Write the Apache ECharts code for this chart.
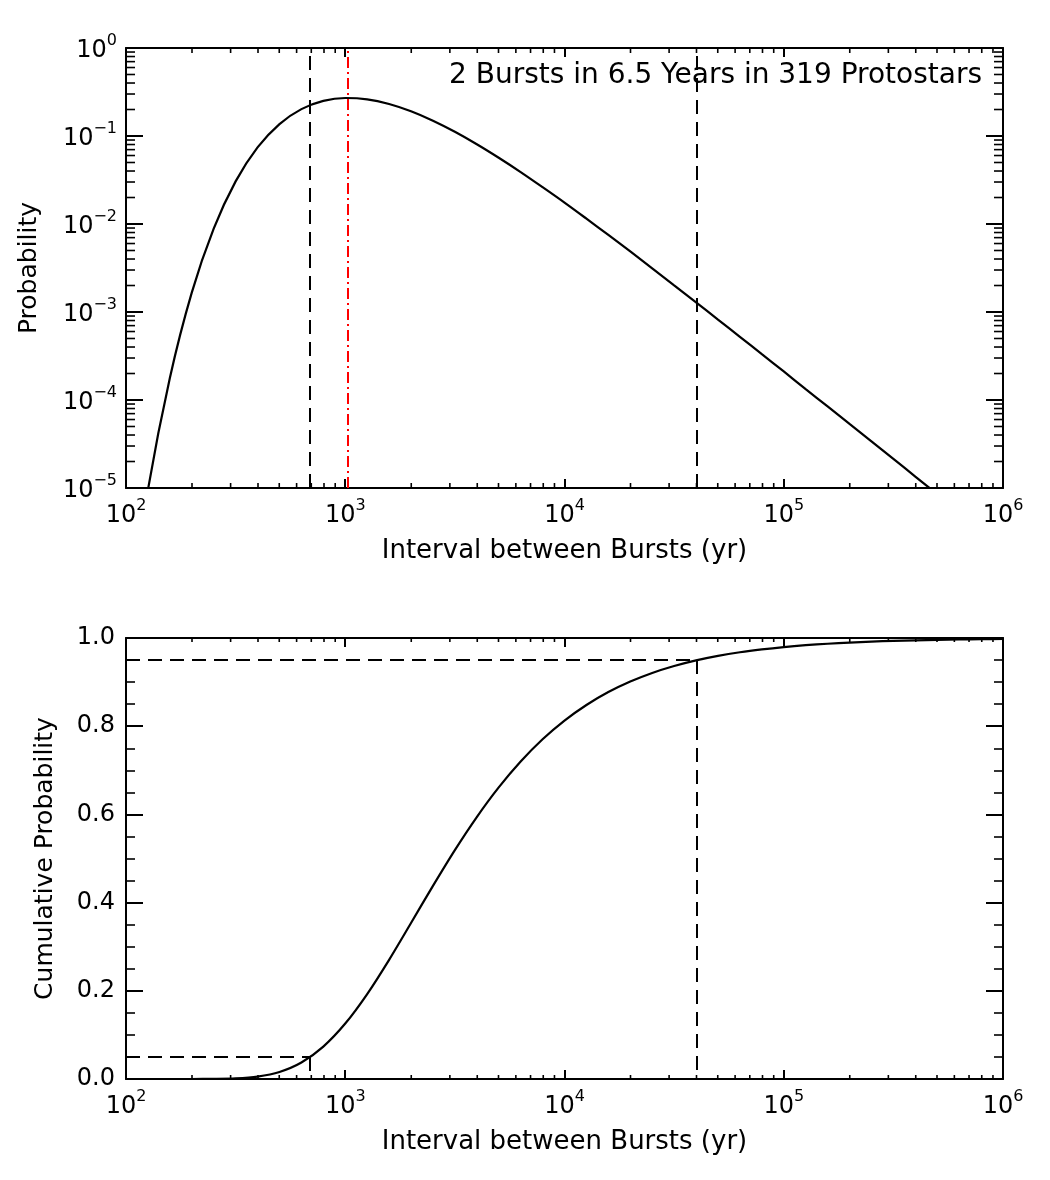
<!DOCTYPE html>
<html>
<head>
<meta charset="utf-8">
<script src="https://cdn.jsdelivr.net/npm/echarts@6/dist/echarts.min.js"></script>
<style>
  html, body { margin: 0; padding: 0; background: #fff; }
  #main { width: 1050px; height: 1180px; }
</style>
</head>
<body>
<div id="main"></div>
<script>
// interval between bursts (yr), sampled every 0.1 dex
var tau = [100, 125.9, 158.5, 199.5, 251.2, 316.2, 398.1, 501.2, 631.0, 794.3,
  1000, 1259, 1585, 1995, 2512, 3162, 3981, 5012, 6310, 7943,
  10000, 12589, 15849, 19953, 25119, 31623, 39811, 50119, 63096, 79433,
  100000, 125893, 158489, 199526, 251189, 316228, 398107, 501187, 630957, 794328, 1000000];

// top panel: probability
var prob = [2.12e-7, 9.53e-6, 1.78e-4, 1.66e-3, 8.86e-3, 0.0305, 0.0742, 0.1367, 0.2019, 0.2504,
  0.2703, 0.2613, 0.2313, 0.1910, 0.1492, 0.1116, 0.0806, 0.0566, 0.0389, 0.0262,
  0.0175, 0.0115, 0.00751, 0.00487, 0.00314, 0.00201, 0.00129, 8.21e-4, 5.23e-4, 3.32e-4,
  2.11e-4, 1.33e-4, 8.45e-5, 5.34e-5, 3.38e-5, 2.14e-5, 1.35e-5, 8.52e-6, 5.38e-6, 3.40e-6, 2.15e-6];

// bottom panel: cumulative probability
var cumProb = [0, 0.0000001, 0.000002, 0.00003, 0.00026, 0.0014, 0.0055, 0.0160, 0.0374, 0.0735,
  0.1257, 0.1926, 0.2703, 0.3537, 0.4380, 0.5191, 0.5940, 0.6612, 0.7199, 0.7703,
  0.8127, 0.8481, 0.8774, 0.9013, 0.9208, 0.9365, 0.9493, 0.9595, 0.9677, 0.9742,
  0.9795, 0.9837, 0.9870, 0.9897, 0.9918, 0.9935, 0.9948, 0.9959, 0.9967, 0.9974, 0.9979];

// reference lines
var tauLow = 690, tauHigh = 40300, tauPeak = 1030;
var cumLow = 0.05, cumHigh = 0.95;

var noteText = '2 Bursts in 6.5 Years in 319 Protostars';
var xTitle = 'Interval between Bursts (yr)';

// minor tick values for the log axes
var xMinor = [], yMinor = [];
for (var e = 2; e < 6; e++) for (var m = 2; m < 10; m++) xMinor.push(m * Math.pow(10, e));
for (var e2 = -5; e2 < 0; e2++) for (var m2 = 2; m2 < 10; m2++) yMinor.push(m2 * Math.pow(10, e2));

var FONT = 'DejaVu Sans';
var INK = '#000';

function pow10Label(v) {
  var ex = Math.round(Math.log10(v));
  return '{b|10}{s|' + String(ex).replace('-', '\u2212') + '}';
}
var powRich = {
  b: { fontSize: 24, fontFamily: FONT, color: INK, lineHeight: 30, verticalAlign: 'bottom' },
  s: { fontSize: 16, fontFamily: FONT, color: INK, lineHeight: 16, verticalAlign: 'top' }
};

function logX(grid, pos, labels) {
  return {
    type: 'log', logBase: 10, gridIndex: grid, position: pos, min: 100, max: 1000000,
    axisLine: { onZero: false, lineStyle: { color: INK, width: 2 } },
    axisTick: { inside: true, length: 9, lineStyle: { color: INK, width: 2 } },
    splitLine: { show: false },
    axisLabel: labels ? { show: true, margin: 10, formatter: pow10Label, rich: powRich, showMinLabel: true, showMaxLabel: true } : { show: false },
    name: labels ? xTitle : '', nameLocation: 'middle', nameGap: 50,
    nameTextStyle: { fontSize: 26, fontFamily: FONT, color: INK }
  };
}

function minorXSeries(grid, xIdx, yIdx, yRef, len) {
  return {
    type: 'custom', xAxisIndex: xIdx, yAxisIndex: yIdx, silent: true, z: 5,
    data: xMinor.map(function (v) { return [v, yRef]; }),
    renderItem: function (params, api) {
      var cs = params.coordSys;
      var x = api.coord([api.value(0), api.value(1)])[0];
      var st = { stroke: INK, lineWidth: 1.6 };
      return { type: 'group', children: [
        { type: 'line', shape: { x1: x, y1: cs.y + cs.height, x2: x, y2: cs.y + cs.height - len }, style: st },
        { type: 'line', shape: { x1: x, y1: cs.y, x2: x, y2: cs.y + len }, style: st }
      ] };
    }
  };
}

var chart = echarts.init(document.getElementById('main'), null, { renderer: 'canvas' });

var dashed = { color: INK, width: 2, type: [14, 8] };

var option = {
  animation: false,
  backgroundColor: '#fff',
  textStyle: { fontFamily: FONT },
  grid: [
    { left: 126, top: 48, width: 877, height: 440, containLabel: false },
    { left: 126, top: 638, width: 877, height: 441, containLabel: false }
  ],
  graphic: [{
    type: 'text', x: 982, y: 76,
    style: { text: noteText, fill: INK, font: '28px "DejaVu Sans"', textAlign: 'right', textVerticalAlign: 'middle' }
  }],
  xAxis: [logX(0, 'bottom', true), logX(0, 'top', false), logX(1, 'bottom', true), logX(1, 'top', false)],
  yAxis: [
    {
      type: 'log', logBase: 10, gridIndex: 0, position: 'left', min: 0.00001, max: 1,
      axisLine: { onZero: false, lineStyle: { color: INK, width: 2 } },
      axisTick: { inside: true, length: 17, lineStyle: { color: INK, width: 2 } },
      splitLine: { show: false },
      axisLabel: { margin: 9, formatter: pow10Label, rich: powRich, showMinLabel: true, showMaxLabel: true },
      name: 'Probability', nameLocation: 'middle', nameGap: 84,
      nameTextStyle: { fontSize: 25, fontFamily: FONT, color: INK }
    },
    {
      type: 'log', logBase: 10, gridIndex: 0, position: 'right', min: 0.00001, max: 1,
      axisLine: { onZero: false, lineStyle: { color: INK, width: 2 } },
      axisTick: { inside: true, length: 17, lineStyle: { color: INK, width: 2 } },
      splitLine: { show: false }, axisLabel: { show: false }
    },
    {
      type: 'value', gridIndex: 1, position: 'left', min: 0, max: 1, interval: 0.2,
      axisLine: { onZero: false, lineStyle: { color: INK, width: 2 } },
      axisTick: { inside: true, length: 17, lineStyle: { color: INK, width: 2 } },
      minorTick: { show: true, splitNumber: 4, length: 9, lineStyle: { color: INK, width: 1.6 } },
      splitLine: { show: false }, minorSplitLine: { show: false },
      axisLabel: { margin: 11, fontSize: 24, fontFamily: FONT, color: INK, formatter: function (v) { return v.toFixed(1); } },
      name: 'Cumulative Probability', nameLocation: 'middle', nameGap: 68,
      nameTextStyle: { fontSize: 25, fontFamily: FONT, color: INK }
    },
    {
      type: 'value', gridIndex: 1, position: 'right', min: 0, max: 1, interval: 0.2,
      axisLine: { onZero: false, lineStyle: { color: INK, width: 2 } },
      axisTick: { inside: true, length: 17, lineStyle: { color: INK, width: 2 } },
      minorTick: { show: true, splitNumber: 4, length: 9, lineStyle: { color: INK, width: 1.6 } },
      splitLine: { show: false }, minorSplitLine: { show: false }, axisLabel: { show: false }
    }
  ],
  series: [
    {
      type: 'line', xAxisIndex: 0, yAxisIndex: 0,
      data: tau.map(function (t, i) { return [t, prob[i]]; }),
      showSymbol: false, symbol: 'none', smooth: 0.3, clip: true,
      lineStyle: { color: INK, width: 2.2 },
      markLine: {
        silent: true, symbol: 'none', label: { show: false },
        lineStyle: dashed,
        data: [
          { xAxis: tauLow },
          { xAxis: tauHigh },
          { xAxis: tauPeak, lineStyle: { color: '#ff0000', width: 2, type: [11, 4, 2, 4] } }
        ]
      }
    },
    {
      type: 'line', xAxisIndex: 2, yAxisIndex: 2,
      data: tau.map(function (t, i) { return [t, cumProb[i]]; }),
      showSymbol: false, symbol: 'none', smooth: 0.3, clip: true,
      lineStyle: { color: INK, width: 2.2 },
      markLine: {
        silent: true, symbol: 'none', label: { show: false },
        lineStyle: dashed,
        data: [
          [{ coord: [100, cumHigh] }, { coord: [tauHigh, cumHigh] }],
          [{ coord: [tauHigh, cumHigh] }, { coord: [tauHigh, 0] }],
          [{ coord: [100, cumLow] }, { coord: [tauLow, cumLow] }],
          [{ coord: [tauLow, cumLow] }, { coord: [tauLow, 0] }]
        ]
      }
    },
    minorXSeries(0, 0, 0, 0.01, 5),
    minorXSeries(1, 2, 2, 0.5, 4),
    {
      type: 'custom', xAxisIndex: 0, yAxisIndex: 0, silent: true, z: 5,
      data: yMinor.map(function (v) { return [1000, v]; }),
      renderItem: function (params, api) {
        var cs = params.coordSys;
        var y = api.coord([api.value(0), api.value(1)])[1];
        var st = { stroke: INK, lineWidth: 1.6 };
        return { type: 'group', children: [
          { type: 'line', shape: { x1: cs.x, y1: y, x2: cs.x + 9, y2: y }, style: st },
          { type: 'line', shape: { x1: cs.x + cs.width, y1: y, x2: cs.x + cs.width - 9, y2: y }, style: st }
        ] };
      }
    }
  ]
};

chart.setOption(option);
</script>
</body>
</html>
